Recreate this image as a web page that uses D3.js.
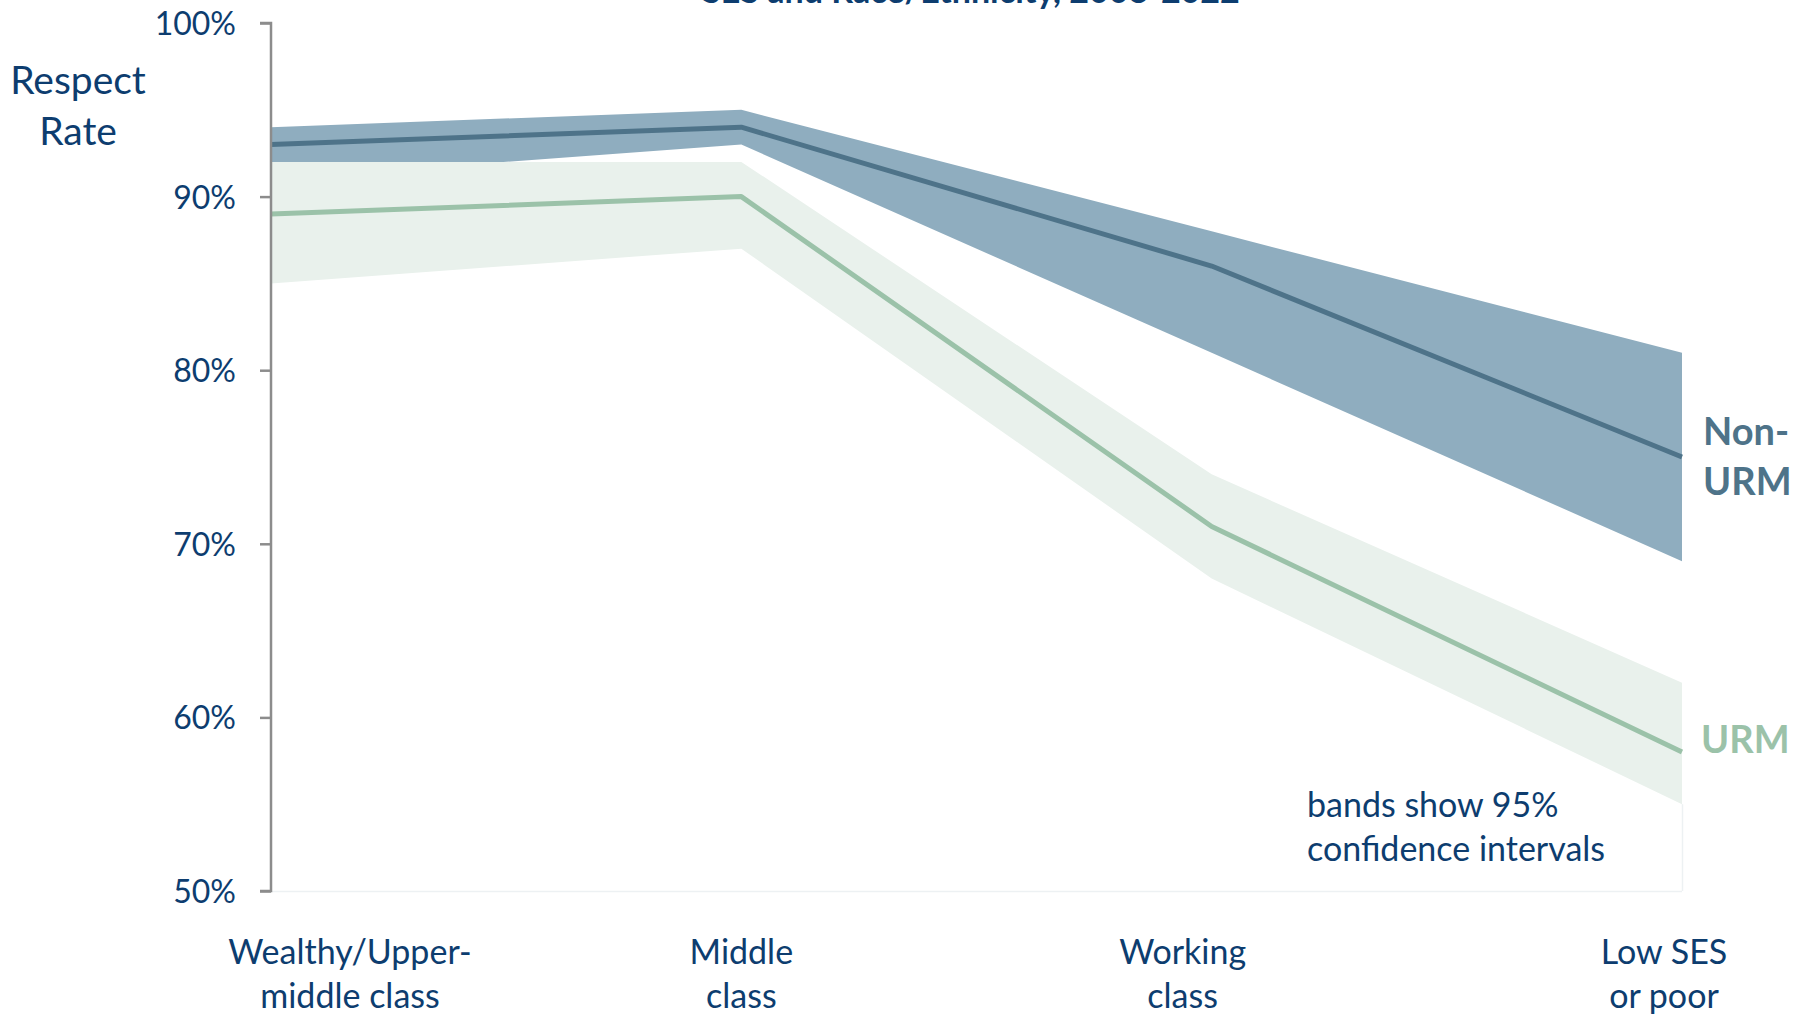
<!DOCTYPE html>
<html>
<head>
<meta charset="utf-8">
<script src="https://cdn.jsdelivr.net/npm/d3@7"></script>
<style>
  html, body { margin: 0; padding: 0; background: #ffffff; }
  svg { display: block; }
  text { font-family: Lato, "Open Sans", sans-serif; }
</style>
</head>
<body>
<svg id="chart" width="1804" height="1015"></svg>
<script>
// Respect rate by socioeconomic status, with 95% confidence bands
const categories = ["Wealthy/Upper-\nmiddle class", "Middle\nclass", "Working\nclass", "Low SES\nor poor"];

const nonUrmRate  = [93, 94, 86, 75];
const nonUrmLower = [91, 93, 81, 69];
const nonUrmUpper = [94, 95, 88, 81];

const urmRate  = [89, 90, 71, 58];
const urmLower = [85, 87, 68, 55];
const urmUpper = [92, 92, 74, 62];

const yTicks = [50, 60, 70, 80, 90, 100];

// layout
const plot = { left: 271, right: 1682, top: 23, bottom: 891 };
const labelNudge = [79, 0, -29, -18];

const colors = {
  text: "#0d3d6f",
  nonLine: "#4e7389",
  nonBand: "#8fadbf",
  urmLine: "#9bc2a9",
  urmBand: "#e9f1ec",
  axis: "#8c8c8c",
  frame: "#edf1f3"
};

const svg = d3.select("#chart");

const x = d3.scalePoint()
  .domain(categories)
  .range([plot.left, plot.right]);

const y = d3.scaleLinear()
  .domain([50, 100])
  .range([plot.bottom, plot.top]);

const rows = (rate, lo, hi) => categories.map((c, i) => ({ c, v: rate[i], lo: lo[i], hi: hi[i] }));
const nonData = rows(nonUrmRate, nonUrmLower, nonUrmUpper);
const urmData = rows(urmRate, urmLower, urmUpper);

const band = d3.area()
  .x(d => x(d.c))
  .y0(d => y(d.lo))
  .y1(d => y(d.hi));

const line = d3.line()
  .x(d => x(d.c))
  .y(d => y(d.v));

// faint plot frame on the right and bottom
svg.append("line")
  .attr("x1", plot.left).attr("x2", plot.right)
  .attr("y1", plot.bottom + 0.5).attr("y2", plot.bottom + 0.5)
  .attr("stroke", colors.frame).attr("stroke-width", 1.5);
svg.append("line")
  .attr("x1", plot.right + 0.5).attr("x2", plot.right + 0.5)
  .attr("y1", y(urmLower[3])).attr("y2", plot.bottom)
  .attr("stroke", colors.frame).attr("stroke-width", 1.5);

// confidence bands (URM band sits over the Non-URM band)
svg.append("path").datum(nonData)
  .attr("d", band).attr("fill", colors.nonBand);
svg.append("path").datum(urmData)
  .attr("d", band).attr("fill", colors.urmBand);

// rate lines
svg.append("path").datum(nonData)
  .attr("d", line).attr("fill", "none")
  .attr("stroke", colors.nonLine).attr("stroke-width", 5)
  .attr("stroke-linejoin", "round");
svg.append("path").datum(urmData)
  .attr("d", line).attr("fill", "none")
  .attr("stroke", colors.urmLine).attr("stroke-width", 5)
  .attr("stroke-linejoin", "round");

// y axis
const yAxis = d3.axisLeft(y)
  .tickValues(yTicks)
  .tickSize(11)
  .tickPadding(24)
  .tickFormat(d => d + "%");

const gy = svg.append("g")
  .attr("transform", `translate(${plot.left},0)`)
  .call(yAxis);
gy.select(".domain")
  .attr("stroke", colors.axis).attr("stroke-width", 2.5)
  .attr("d", `M-11,${plot.top}H0V${plot.bottom}H-11`);
gy.selectAll(".tick line").attr("stroke", colors.axis).attr("stroke-width", 2.5);
gy.selectAll(".tick text")
  .attr("fill", colors.text)
  .style("font-size", "32px")
  .style("font-family", "Lato, sans-serif")
  .attr("dy", "0.36em");

// x category labels
categories.forEach((c, i) => {
  const lines = c.split("\n");
  const t = svg.append("text")
    .attr("x", x(c) + labelNudge[i])
    .attr("y", 964)
    .attr("text-anchor", "middle")
    .attr("fill", colors.text)
    .style("font-size", "34px");
  lines.forEach((ln, j) => {
    t.append("tspan")
      .attr("x", x(c) + labelNudge[i])
      .attr("dy", j === 0 ? 0 : 44)
      .text(ln);
  });
});

// y axis title
const yt = svg.append("text")
  .attr("text-anchor", "middle")
  .attr("fill", colors.text)
  .style("font-size", "39px");
yt.append("tspan").attr("x", 78).attr("y", 94).text("Respect");
yt.append("tspan").attr("x", 78).attr("y", 145).text("Rate");

// chart title (second line, partly above the frame)
svg.append("text")
  .attr("x", 971).attr("y", 3)
  .attr("text-anchor", "middle")
  .attr("fill", colors.text)
  .style("font-size", "34px")
  .style("font-weight", 700)
  .text("SES and Race/Ethnicity, 2008-2022");

// series labels at the line ends
const nonLab = svg.append("text")
  .attr("fill", colors.nonLine)
  .style("font-size", "38px")
  .style("font-weight", 700);
nonLab.append("tspan").attr("x", 1703).attr("y", 445).text("Non-");
nonLab.append("tspan").attr("x", 1703).attr("y", 495).text("URM");

svg.append("text")
  .attr("x", 1701).attr("y", 753)
  .attr("fill", colors.urmLine)
  .style("font-size", "38px")
  .style("font-weight", 700)
  .text("URM");

// note
const note = svg.append("text")
  .attr("fill", colors.text)
  .style("font-size", "34px");
note.append("tspan").attr("x", 1307).attr("y", 817).text("bands show 95%");
note.append("tspan").attr("x", 1307).attr("y", 861).text("confidence intervals");
</script>
</body>
</html>
